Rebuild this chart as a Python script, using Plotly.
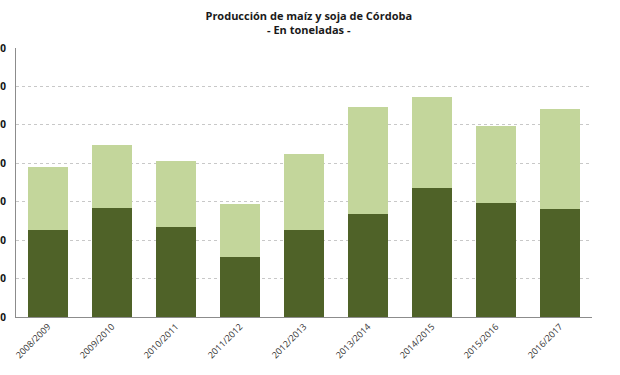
import plotly.graph_objects as go

campanas = ["2008/2009", "2009/2010", "2010/2011", "2011/2012", "2012/2013",
            "2013/2014", "2014/2015", "2015/2016", "2016/2017"]
# toneladas
serie_oscura = [11300000, 14200000, 11650000, 7750000, 11300000,
                13400000, 16750000, 14850000, 14050000]
serie_clara = [8200000, 8150000, 8650000, 6900000, 9900000,
               13900000, 11900000, 10050000, 13000000]
ticks_y = [0, 5000000, 10000000, 15000000, 20000000, 25000000, 30000000, 35000000]
ticks_y_text = ["0", "5.000.000", "10.000.000", "15.000.000", "20.000.000",
                "25.000.000", "30.000.000", "35.000.000"]

fig = go.Figure()
fig.add_trace(go.Bar(x=campanas, y=serie_oscura, name="Maíz",
                     marker=dict(color="#4F6228", line=dict(width=0)), width=0.64))
fig.add_trace(go.Bar(x=campanas, y=serie_clara, name="Soja",
                     marker=dict(color="#C3D69B", line=dict(width=0)), width=0.64))

fig.update_layout(
    barmode="stack",
    width=620, height=375,
    margin=dict(l=16, r=28, t=48, b=58),
    paper_bgcolor="white", plot_bgcolor="white",
    showlegend=False,
    title=dict(text="<b>Producción de maíz y soja de Córdoba</b><br><b>- En toneladas -</b>",
               x=0.498, xanchor="center", y=0.948, yanchor="middle",
               font=dict(family="Open Sans", size=11, color="#1a1a1a")),
    font=dict(family="Open Sans", color="#333333"),
)
fig.update_xaxes(range=[-0.5, 8.5], showline=True, linecolor="#8c8c8c", linewidth=1,
                 tickangle=-45, tickfont=dict(size=9, color="#333333"),
                 ticks="", showgrid=False, automargin=False)
fig.update_yaxes(range=[0, 35000000], tickvals=ticks_y, ticktext=ticks_y_text,
                 showline=True, linecolor="#8c8c8c", linewidth=1,
                 showgrid=True, gridcolor="#c8c8c8", griddash="dot", gridwidth=1,
                 tickfont=dict(size=10, color="#111111", family="Open Sans", weight="bold"),
                 ticklabelstandoff=7, ticklabeloverflow="allow",
                 zeroline=False, automargin=False)

fig.write_html("out.html", config={"displayModeBar": False},
               post_script="document.body.style.margin='0';")
